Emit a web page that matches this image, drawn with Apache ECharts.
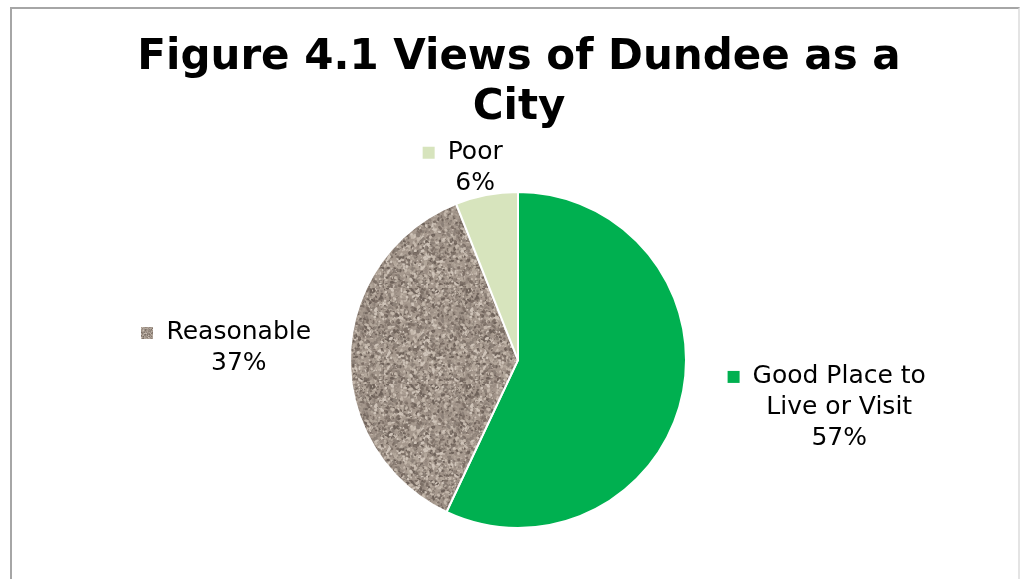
<!DOCTYPE html>
<html>
<head>
<meta charset="utf-8">
<script src="https://cdn.jsdelivr.net/npm/echarts@6/dist/echarts.min.js"></script>
<style>
  html, body { margin: 0; padding: 0; background: #ffffff; }
  #wrap { position: relative; width: 1024px; height: 579px; overflow: hidden; }
  #frame {
    position: absolute; left: 10px; top: 7px; width: 1010px; height: 620px;
    border: 2px solid #a6a6a6; border-right-color: #e4e4e4; box-sizing: border-box;
  }
  #chart { position: absolute; left: 0; top: 0; width: 1024px; height: 579px; }
</style>
</head>
<body>
<div id="wrap">
  <div id="frame"></div>
  <div id="chart"></div>
</div>
<script>
// Survey responses: views of Dundee as a city
const titleText = 'Figure 4.1 Views of Dundee as a\nCity';
const categories = ['Good Place to Live or Visit', 'Reasonable', 'Poor'];
const percentages = [57, 37, 6];

// Speckled granite fill for the "Reasonable" slice, built from a seeded generator
function granitePattern() {
  const size = 96;
  const c = document.createElement('canvas');
  c.width = size; c.height = size;
  const ctx = c.getContext('2d');
  ctx.fillStyle = '#a5988d';
  ctx.fillRect(0, 0, size, size);
  let seed = 12345;
  const rnd = () => { seed = (seed * 1103515245 + 12345) & 0x7fffffff; return seed / 0x7fffffff; };
  const tones = ['#7d7067', '#6e625a', '#8c8077', '#c4b8ac', '#cfc4b9', '#b3a79b', '#998c82'];
  for (let i = 0; i < 2200; i++) {
    const x = rnd() * size, y = rnd() * size;
    const r = 0.5 + rnd() * 1.0;
    ctx.fillStyle = tones[Math.floor(rnd() * tones.length)];
    ctx.beginPath();
    ctx.ellipse(x, y, r * (1 + rnd()), r, rnd() * Math.PI, 0, Math.PI * 2);
    ctx.fill();
  }
  return c;
}
const granite = granitePattern();

const sliceColors = [
  '#00b050',
  { image: granite, repeat: 'repeat' },
  '#d7e4bd'
];

// Break long category names onto lines of at most 14 characters
function wrap(name, max) {
  const words = name.split(' ');
  const lines = [];
  let cur = '';
  words.forEach(w => {
    const next = cur ? cur + ' ' + w : w;
    if (next.length > max && cur) { lines.push(cur); cur = w; } else { cur = next; }
  });
  if (cur) lines.push(cur);
  return lines;
}

const labelFont = { fontFamily: 'DejaVu Sans', fontSize: 25, lineHeight: 31, color: '#000000', align: 'center' };
const rich = { t: labelFont, g: { width: 13, align: 'center' }, p: { width: 25, align: 'center' } };
categories.forEach((_, i) => {
  rich['sq' + i] = { width: 12, height: 12, align: 'center', backgroundColor: i === 1 ? { image: granite } : sliceColors[i] };
});

const chart = echarts.init(document.getElementById('chart'), null, { renderer: 'canvas' });

// Nudges applied to the outside labels so each sits clear of its slice
const labelShift = [
  { dx: 16, dy: 8 },
  { dx: 16, dy: -6 },
  { dx: 59, dy: -12 }
];

chart.setOption({
  backgroundColor: 'transparent',
  animation: false,
  title: {
    text: titleText,
    left: 514,
    top: 28,
    textAlign: 'center',
    textStyle: {
      fontFamily: 'DejaVu Sans',
      fontWeight: 'bold',
      fontSize: 42,
      lineHeight: 50,
      color: '#000000'
    }
  },
  series: [{
    type: 'pie',
    center: [518, 360],
    radius: 168,
    startAngle: 90,
    clockwise: true,
    avoidLabelOverlap: false,
    data: categories.map((name, i) => ({
      name: name,
      value: percentages[i],
      itemStyle: { color: sliceColors[i] }
    })),
    itemStyle: { borderColor: '#ffffff', borderWidth: 2 },
    label: {
      show: true,
      position: 'outside',
      formatter: p => {
        const lines = wrap(p.name, 14);
        const first = '{sq' + p.dataIndex + '| }{g| }{t|' + lines[0] + '}{p| }';
        const rest = lines.slice(1).map(l => '{t|' + l + '}');
        return [first].concat(rest, ['{t|' + p.value + '%}']).join('\n');
      },
      rich: rich
    },
    labelLine: { show: false, length: 15, length2: 10 },
    labelLayout: p => labelShift[p.dataIndex],
    emphasis: { disabled: true }
  }]
});
</script>
</body>
</html>
